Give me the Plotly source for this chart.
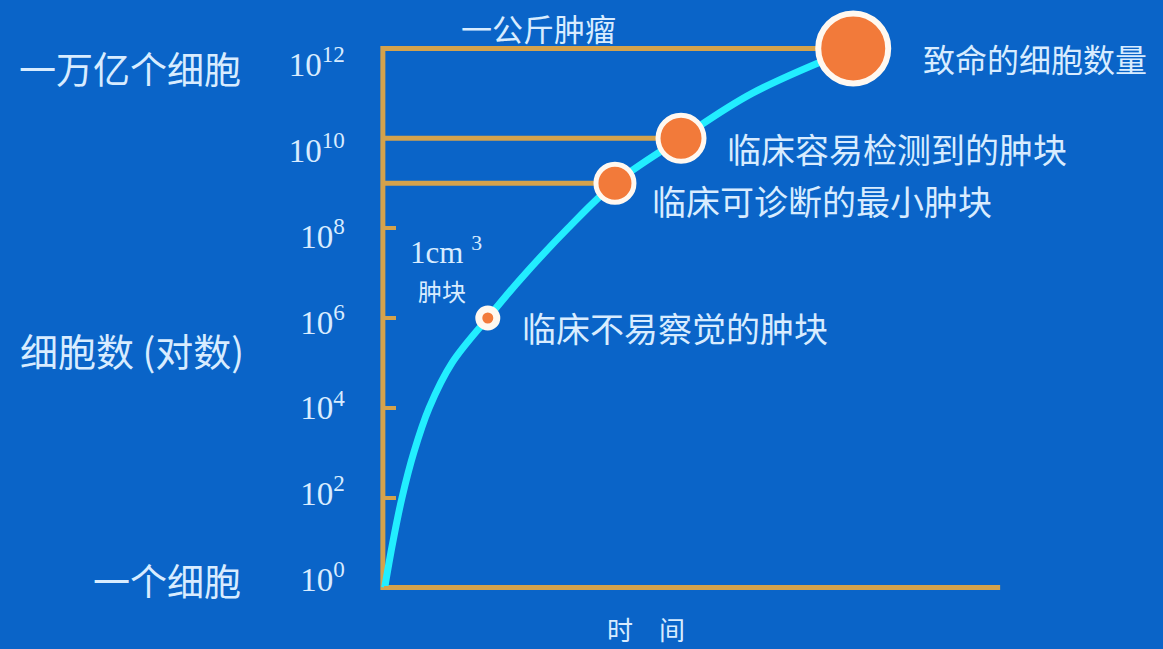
import plotly.graph_objects as go

# ---- data ----
time = [0.3, 1.6, 3.1, 5.0, 7.5, 11.2, 17.0, 22.2, 30.0, 37.6, 48.3, 59.8, 76.2]
cells = [1, 1e1, 1e2, 1e3, 1e4, 1e5, 1e6, 10**6.85, 1e8, 1e9, 1e10, 1e11, 1e12]

marker_time = [17.0, 37.6, 48.3, 76.2]
marker_cells = [1e6, 1e9, 1e10, 1e12]
marker_labels = ["临床不易察觉的肿块", "临床可诊断的最小肿块", "临床容易检测到的肿块", "致命的细胞数量"]

guide_time = [37.6, 48.3]
guide_cells = [1e9, 1e10]

tick_vals = [1, 1e2, 1e4, 1e6, 1e8, 1e10, 1e12]
tick_text = ["10<sup>0</sup>", "10<sup>2</sup>", "10<sup>4</sup>", "10<sup>6</sup>",
             "10<sup>8</sup>", "10<sup>10</sup>", "10<sup>12</sup>"]

axis_time_end = 100
axis_cells_top = 1e12
axis_cells_bottom = 1

# ---- styles ----
BG = "#0a64c8"
GOLD = "#d4a24c"
CYAN = "#22eeff"
ORANGE = "#f27a3a"
WHITE = "#fff8f0"
TXT = "#d8ecff"
CJK = "Noto Sans CJK SC"
SERIF = "Liberation Serif"

W, H = 1163, 649
L, R, T, B = 352.15, 132.15, 25.5, 38.5
PW, PH = W - L - R, H - T - B


def px(x):
    return (x - L) / PW


def py(y):
    return (H - B - y) / PH


fig = go.Figure()

# axes + top guide line (一公斤肿瘤)
fig.add_trace(go.Scatter(
    x=[marker_time[-1], 0, 0, axis_time_end],
    y=[axis_cells_top, axis_cells_top, axis_cells_bottom, axis_cells_bottom],
    mode="lines", line=dict(color=GOLD, width=5), hoverinfo="skip", showlegend=False))

# other guide lines
gx, gy = [], []
for t, c in zip(guide_time, guide_cells):
    gx += [0, t, None]
    gy += [c, c, None]
fig.add_trace(go.Scatter(x=gx, y=gy, mode="lines", line=dict(color=GOLD, width=5),
                         hoverinfo="skip", showlegend=False))

# growth curve
fig.add_trace(go.Scatter(x=time, y=cells, mode="lines",
                         line=dict(color=CYAN, width=7, shape="spline", smoothing=1.0),
                         showlegend=False))

# markers
fig.add_trace(go.Scatter(
    x=marker_time, y=marker_cells, mode="markers", cliponaxis=False,
    marker=dict(color=ORANGE, opacity=1, size=[18, 38, 46, 70],
                line=dict(color=WHITE, width=[7, 5, 5, 6])),
    showlegend=False))

# invisible trace so the label axis is drawn
fig.add_trace(go.Scatter(x=[None], y=[None], yaxis="y2", showlegend=False, hoverinfo="skip"))

ann = []


def add(text, x, y, size, xanchor="left", family=CJK):
    ann.append(dict(text=text, x=px(x), y=py(y), xref="paper", yref="paper",
                    xanchor=xanchor, yanchor="middle", showarrow=False,
                    font=dict(family=family, size=size, color=TXT)))


add("一万亿个细胞", 243, 68, 37, "right")
add("细胞数 (对数)", 246, 350, 38, "right")
add("一个细胞", 243, 580, 37, "right")
add("一公斤肿瘤", 459, 27, 31)
add(marker_labels[3], 921, 58, 32)
add(marker_labels[2], 725, 148, 34)
add(marker_labels[1], 650, 200, 34)
add(marker_labels[0], 520, 328, 34)
add("1cm <sup>3</sup>", 408, 250, 31, family=SERIF)
add("肿块", 416, 290, 24)
add("时\u3000间", 605, 629, 26)

# label axis: reference labels sit 43 px per decade, "10^0" centred at y=580
lab_b = 43.0
lab_r0 = -(H - B - 580) / lab_b
lab_r1 = lab_r0 + PH / lab_b

fig.update_layout(
    width=W, height=H, autosize=False,
    margin=dict(l=L, r=R, t=T, b=B, pad=0),
    paper_bgcolor=BG, plot_bgcolor=BG,
    annotations=ann,
    xaxis=dict(range=[-5, 105], visible=False, fixedrange=True),
    yaxis=dict(type="log", range=[-0.5, 12.5], anchor="free", position=5 / 110,
               tickvals=tick_vals, showticklabels=False, ticks="inside",
               ticklen=12, tickwidth=4, tickcolor=GOLD, showgrid=False,
               zeroline=False, showline=False, automargin=False),
    yaxis2=dict(type="log", range=[lab_r0, lab_r1], overlaying="y", anchor="free",
                position=5 / 110, side="left",
                tickvals=tick_vals, ticktext=tick_text, ticks="",
                showgrid=False, zeroline=False, showline=False, automargin=False,
                ticklabelstandoff=38,
                tickfont=dict(family=SERIF, size=33, color=TXT)),
)

fig.write_html("out.html")
